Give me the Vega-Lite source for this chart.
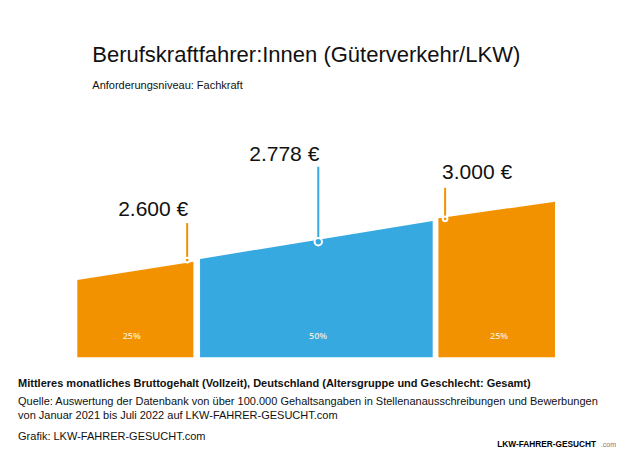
{
  "$schema": "https://vega.github.io/schema/vega-lite/v6.json",
  "width": 640,
  "height": 456,
  "autosize": "none",
  "padding": 0,
  "background": "white",
  "config": {
    "view": {"stroke": null},
    "font": "Liberation Sans",
    "axis": {"disable": true},
    "legend": {"disable": true}
  },
  "datasets": {
    "bands": [
      {"band": "unteres Viertel", "pos": 0, "top": 2407},
      {"band": "unteres Viertel", "pos": 24.3, "top": 2585},
      {"band": "mittlere Hälfte", "pos": 25.7, "top": 2611},
      {"band": "mittlere Hälfte", "pos": 74.4, "top": 2979},
      {"band": "oberes Viertel", "pos": 75.6, "top": 3005},
      {"band": "oberes Viertel", "pos": 100, "top": 3166}
    ],
    "quantiles": [
      {"q": "1. Quartil", "band": "unteres Viertel", "pos": 23.0, "value": 2600, "label": "2.600 €"},
      {"q": "Median", "band": "mittlere Hälfte", "pos": 50.45, "value": 2778, "label": "2.778 €"},
      {"q": "3. Quartil", "band": "oberes Viertel", "pos": 77.0, "value": 3000, "label": "3.000 €"}
    ],
    "shares": [
      {"band": "unteres Viertel", "mid": 11.4, "share": "25%"},
      {"band": "mittlere Hälfte", "mid": 50.4, "share": "50%"},
      {"band": "oberes Viertel", "mid": 88.3, "share": "25%"}
    ]
  },
  "encoding": {
    "x": {"type": "quantitative", "scale": {"domain": [-16.18, 117.8], "nice": false, "zero": false}, "axis": null},
    "y": {"type": "quantitative", "scale": {"domain": [702, 5120], "nice": false, "zero": false}, "axis": null}
  },
  "layer": [
    {
      "data": {"name": "bands"},
      "mark": {"type": "area", "opacity": 1},
      "encoding": {
        "x": {"field": "pos", "type": "quantitative"},
        "y": {"field": "top", "type": "quantitative", "stack": null},
        "y2": {"datum": 1658},
        "color": {"field": "band", "type": "nominal", "scale": {"domain": ["unteres Viertel", "mittlere Hälfte", "oberes Viertel"], "range": ["#F39200", "#36A9E1", "#F39200"]}, "legend": null}
      }
    },
    {
      "data": {"name": "quantiles"},
      "transform": [{"filter": "datum.q === '1. Quartil'"}],
      "mark": {"type": "rule", "strokeWidth": 2, "y2Offset": -37},
      "encoding": {
        "x": {"field": "pos", "type": "quantitative"},
        "y": {"field": "value", "type": "quantitative"},
        "y2": {"field": "value"},
        "color": {"field": "band", "type": "nominal"}
      }
    },
    {
      "data": {"name": "quantiles"},
      "transform": [{"filter": "datum.q === 'Median'"}],
      "mark": {"type": "rule", "strokeWidth": 2, "y2Offset": -75},
      "encoding": {
        "x": {"field": "pos", "type": "quantitative"},
        "y": {"field": "value", "type": "quantitative"},
        "y2": {"field": "value"},
        "color": {"field": "band", "type": "nominal"}
      }
    },
    {
      "data": {"name": "quantiles"},
      "transform": [{"filter": "datum.q === '3. Quartil'"}],
      "mark": {"type": "rule", "strokeWidth": 2, "y2Offset": -31},
      "encoding": {
        "x": {"field": "pos", "type": "quantitative"},
        "y": {"field": "value", "type": "quantitative"},
        "y2": {"field": "value"},
        "color": {"field": "band", "type": "nominal"}
      }
    },
    {
      "data": {"name": "quantiles"},
      "mark": {"type": "point", "filled": true, "stroke": "white", "strokeWidth": 2, "opacity": 1},
      "encoding": {
        "x": {"field": "pos", "type": "quantitative"},
        "y": {"field": "value", "type": "quantitative"},
        "color": {"field": "band", "type": "nominal"},
        "size": {"condition": {"test": "datum.q === 'Median'", "value": 55}, "value": 22}
      }
    },
    {
      "data": {"name": "quantiles"},
      "transform": [{"filter": "datum.q === '1. Quartil'"}],
      "mark": {"type": "text", "fontSize": 21, "align": "center", "baseline": "alphabetic", "dx": -34, "dy": -44, "color": "#111111"},
      "encoding": {
        "x": {"field": "pos", "type": "quantitative"},
        "y": {"field": "value", "type": "quantitative"},
        "text": {"field": "label"}
      }
    },
    {
      "data": {"name": "quantiles"},
      "transform": [{"filter": "datum.q === 'Median'"}],
      "mark": {"type": "text", "fontSize": 21, "align": "center", "baseline": "alphabetic", "dx": -34, "dy": -81, "color": "#111111"},
      "encoding": {
        "x": {"field": "pos", "type": "quantitative"},
        "y": {"field": "value", "type": "quantitative"},
        "text": {"field": "label"}
      }
    },
    {
      "data": {"name": "quantiles"},
      "transform": [{"filter": "datum.q === '3. Quartil'"}],
      "mark": {"type": "text", "fontSize": 21, "align": "center", "baseline": "alphabetic", "dx": 32, "dy": -40, "color": "#111111"},
      "encoding": {
        "x": {"field": "pos", "type": "quantitative"},
        "y": {"field": "value", "type": "quantitative"},
        "text": {"field": "label"}
      }
    },
    {
      "data": {"name": "shares"},
      "mark": {"type": "text", "font": "Open Sans", "fontSize": 9, "fontWeight": 600, "align": "center", "baseline": "middle", "dy": -21, "color": "#FFF3DA", "opacity": 0.9},
      "encoding": {
        "x": {"field": "mid", "type": "quantitative"},
        "y": {"datum": 1658},
        "text": {"field": "share"}
      }
    },
    {
      "data": {"values": [{}]},
      "mark": {"type": "text", "fontSize": 22, "align": "left", "baseline": "alphabetic", "color": "#111111"},
      "encoding": {
        "x": {"datum": 3.14},
        "y": {"datum": 4523},
        "text": {"value": "Berufskraftfahrer:Innen (Güterverkehr/LKW)"}
      }
    },
    {
      "data": {"values": [{}]},
      "mark": {"type": "text", "fontSize": 11, "align": "left", "baseline": "alphabetic", "color": "#111111"},
      "encoding": {
        "x": {"datum": 3.14},
        "y": {"datum": 4253},
        "text": {"value": "Anforderungsniveau: Fachkraft"}
      }
    },
    {
      "data": {"values": [{}]},
      "mark": {"type": "text", "fontSize": 11, "fontWeight": "bold", "align": "left", "baseline": "alphabetic", "color": "#111111"},
      "encoding": {
        "x": {"datum": -12.4},
        "y": {"datum": 1370},
        "text": {"value": "Mittleres monatliches Bruttogehalt (Vollzeit), Deutschland (Altersgruppe und Geschlecht: Gesamt)"}
      }
    },
    {
      "data": {"values": [{}]},
      "mark": {"type": "text", "fontSize": 11, "lineHeight": 14, "align": "left", "baseline": "alphabetic", "color": "#111111"},
      "encoding": {
        "x": {"datum": -12.4},
        "y": {"datum": 1196},
        "text": {"value": ["Quelle: Auswertung der Datenbank von über 100.000 Gehaltsangaben in Stellenanausschreibungen und Bewerbungen", "von Januar 2021 bis Juli 2022 auf LKW-FAHRER-GESUCHT.com"]}
      }
    },
    {
      "data": {"values": [{}]},
      "mark": {"type": "text", "fontSize": 11, "align": "left", "baseline": "alphabetic", "color": "#111111"},
      "encoding": {
        "x": {"datum": -12.4},
        "y": {"datum": 857},
        "text": {"value": "Grafik: LKW-FAHRER-GESUCHT.com"}
      }
    },
    {
      "data": {"values": [{}]},
      "mark": {"type": "text", "fontSize": 8.3, "fontWeight": "bold", "align": "left", "baseline": "alphabetic", "color": "#000000"},
      "encoding": {
        "x": {"datum": 87.9},
        "y": {"datum": 789},
        "text": {"value": "LKW-FAHRER-GESUCHT"}
      }
    },
    {
      "data": {"values": [{}]},
      "mark": {"type": "text", "fontSize": 7, "align": "left", "baseline": "alphabetic", "color": "#777777"},
      "encoding": {
        "x": {"datum": 109.6},
        "y": {"datum": 789},
        "text": {"value": ".com"}
      }
    }
  ]
}
